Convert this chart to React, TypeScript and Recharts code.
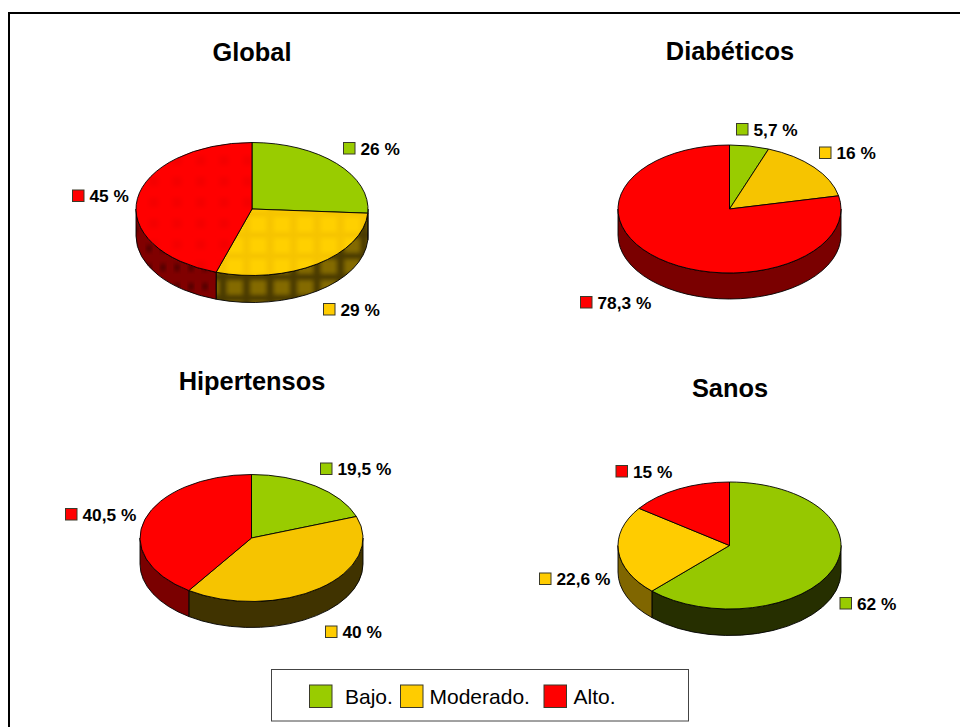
import { Pie, PieChart } from 'recharts';

const categories = ['Bajo.', 'Moderado.', 'Alto.'];

const globalValues = [26, 29, 45];
const diabeticValues = [5.7, 16, 78.3];
const hypertensiveValues = [19.5, 40, 40.5];
const healthyValues = [62, 22.6, 15];

const FONT = '"Liberation Sans", Arial, sans-serif';
const SWATCH_STROKE = '#3a3a2a';
const sliceColors = ['#99cc00', '#ffcc00', '#ff0000'];

interface Panel {
  title: string;
  values: number[];
  cx: number;
  cy: number;
  rx: number;
  ry: number;
  depth: number;
  titleX: number;
  titleY: number;
  faces: string[];
  walls: string[];
  callouts: [number, number][];
}

// callouts hold the top-left corner of each small swatch, in category order
const panels: Panel[] = [
  {
    title: 'Global',
    values: globalValues,
    cx: 252,
    cy: 209,
    rx: 116,
    ry: 66.5,
    depth: 27,
    titleX: 252,
    titleY: 61,
    faces: ['#99cc00', 'url(#tileFace)', 'url(#tileFaceRed)'],
    walls: ['#2a3300', 'url(#tileWall)', 'url(#tileWallRed)'],
    callouts: [[343.5, 142.5], [323.5, 303.5], [72.5, 190]],
  },
  {
    title: 'Diabéticos',
    values: diabeticValues,
    cx: 729.5,
    cy: 209,
    rx: 111.5,
    ry: 64,
    depth: 26,
    titleX: 730,
    titleY: 60,
    faces: ['#99cc00', '#f6c400', '#ff0000'],
    walls: ['#2a3300', '#806600', '#7a0000'],
    callouts: [[736.5, 123.5], [819.5, 147], [580.5, 296.5]],
  },
  {
    title: 'Hipertensos',
    values: hypertensiveValues,
    cx: 251.5,
    cy: 538,
    rx: 111.5,
    ry: 63.5,
    depth: 26,
    titleX: 252,
    titleY: 389.5,
    faces: ['#99cc00', '#f6c400', '#ff0000'],
    walls: ['#2a3300', '#403300', '#7a0000'],
    callouts: [[320.5, 463], [325.5, 626], [65.5, 508.5]],
  },
  {
    title: 'Sanos',
    values: healthyValues,
    cx: 729.5,
    cy: 545.5,
    rx: 111.5,
    ry: 63.5,
    depth: 26.5,
    titleX: 730,
    titleY: 397,
    faces: ['#96c800', '#ffcc00', '#ff0000'],
    walls: ['#262f00', '#806600', '#7a0000'],
    callouts: [[840, 597.5], [539.5, 573], [616, 465.5]],
  },
];

const legendItems = [
  { box: 309.5, text: 345 },
  { box: 400.5, text: 429.5 },
  { box: 544, text: 573.5 },
];

const asPercent = (value: number) => `${String(value).replace('.', ',')} %`;

// Flattened pie slice: the front wall is extruded downward, the face sits on top.
function TiltedSlice(props: any, panel: Panel) {
  const { cx, cy, outerRadius, startAngle, endAngle, index } = props;
  const rx = outerRadius;
  const ry = panel.ry;
  const at = (clockFromTop: number, drop = 0) => {
    const rad = (clockFromTop * Math.PI) / 180;
    return `${cx + rx * Math.sin(rad)} ${cy - ry * Math.cos(rad) + drop}`;
  };
  const from = 90 - startAngle;
  const to = 90 - endAngle;
  const large = to - from > 180 ? 1 : 0;
  const wallFrom = Math.max(from, 90);
  const wallTo = Math.min(to, 270);
  return (
    <g>
      {wallFrom < wallTo && (
        <path
          d={`M${at(wallFrom)} A${rx} ${ry} 0 0 1 ${at(wallTo)} L${at(wallTo, panel.depth)} A${rx} ${ry} 0 0 0 ${at(wallFrom, panel.depth)} Z`}
          fill={panel.walls[index]}
          stroke="#000"
          strokeWidth={0.9}
          strokeLinejoin="round"
        />
      )}
      <path
        d={`M${cx} ${cy} L${at(from)} A${rx} ${ry} 0 ${large} 1 ${at(to)} Z`}
        fill={panel.faces[index]}
        stroke="#000"
        strokeWidth={0.9}
        strokeLinejoin="round"
      />
    </g>
  );
}

function Callout(props: any, panel: Panel) {
  const { index, value } = props;
  const [x, y] = panel.callouts[index];
  return (
    <g>
      <rect x={x} y={y} width={11.5} height={11.5} fill={sliceColors[index]} stroke={SWATCH_STROKE} strokeWidth={1} />
      <text x={x + 17} y={y + 12} fontFamily={FONT} fontSize={17.3} fontWeight={700} fill="#000" textAnchor="start">
        {asPercent(value)}
      </text>
    </g>
  );
}

export default function App() {
  return (
    <div style={{ position: 'absolute', left: 0, top: 0, width: 960, height: 727, background: '#fff' }}>
      <PieChart width={960} height={727} margin={{ top: 0, right: 0, bottom: 0, left: 0 }}>
        <defs>
          <filter id="soft" x="-40%" y="-40%" width="180%" height="180%">
            <feGaussianBlur stdDeviation="2" />
          </filter>
          <pattern id="tileWall" x={223} y={277} width={23.5} height={21} patternUnits="userSpaceOnUse">
            <rect width={23.5} height={21} fill="#4a3b00" />
            <rect x={3.5} y={3} width={16.5} height={15} fill="#846a00" filter="url(#soft)" />
          </pattern>
          <pattern id="tileFace" x={223} y={277} width={23.5} height={21} patternUnits="userSpaceOnUse">
            <rect width={23.5} height={21} fill="#f6c400" />
            <rect x={3.5} y={3} width={16.5} height={15} fill="#ffd000" filter="url(#soft)" />
          </pattern>
          <pattern id="tileWallRed" x={142} y={220} width={14} height={19} patternUnits="userSpaceOnUse">
            <rect width={14} height={19} fill="#800000" />
            <rect x={5} y={6} width={4} height={7} fill="#3f0000" filter="url(#soft)" />
          </pattern>
          <pattern id="tileFaceRed" x={142} y={150} width={23.5} height={21} patternUnits="userSpaceOnUse">
            <rect width={23.5} height={21} fill="#ff0000" />
            <rect x={7} y={6} width={9} height={9} fill="#f40000" filter="url(#soft)" />
          </pattern>
        </defs>

        <path d="M9 727 V13 H960" fill="none" stroke="#000" strokeWidth={2} />

        {panels.map((panel) => (
          <text
            key={panel.title}
            x={panel.titleX}
            y={panel.titleY}
            textAnchor="middle"
            fontFamily={FONT}
            fontSize={25.4}
            fontWeight={700}
            fill="#000"
          >
            {panel.title}
          </text>
        ))}

        {panels.map((panel) => (
          <Pie
            key={panel.title}
            data={categories.map((name, i) => ({ name, value: panel.values[i] }))}
            dataKey="value"
            nameKey="name"
            cx={panel.cx}
            cy={panel.cy}
            innerRadius={0}
            outerRadius={panel.rx}
            startAngle={90}
            endAngle={-270}
            isAnimationActive={false}
            shape={(props: any) => TiltedSlice(props, panel)}
            label={(props: any) => Callout(props, panel)}
            labelLine={false}
          />
        ))}

        <rect x={271.5} y={669.5} width={417} height={51.5} fill="#fff" stroke="#444" strokeWidth={1} />
        {categories.map((name, i) => (
          <g key={name}>
            <rect x={legendItems[i].box} y={685} width={22.5} height={22.5} fill={sliceColors[i]} stroke={SWATCH_STROKE} strokeWidth={1} />
            <text x={legendItems[i].text} y={704} fontFamily={FONT} fontSize={21} fill="#000">
              {name}
            </text>
          </g>
        ))}
      </PieChart>
    </div>
  );
}
